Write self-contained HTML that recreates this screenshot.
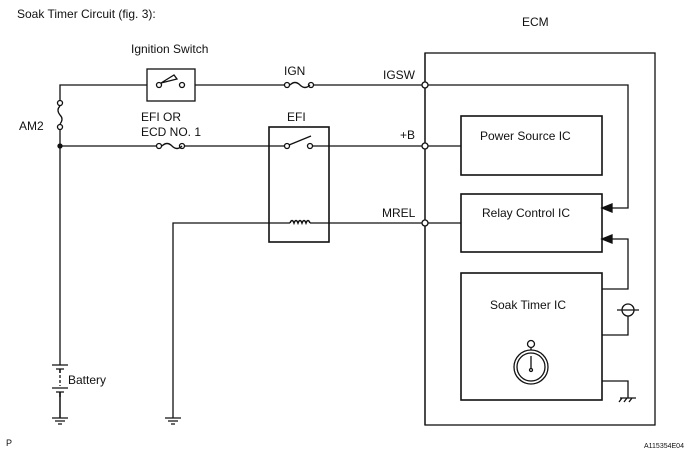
<!DOCTYPE html>
<html><head><style>body{margin:0;background:#fff}svg{display:block}text{font-family:"Liberation Sans",Arial,sans-serif;fill:#111}</style></head><body>
<svg width="692" height="465" viewBox="0 0 692 465" stroke="#111" fill="none" stroke-width="1.3">
<text x="17" y="18" font-size="12" stroke="none">Soak Timer Circuit (fig. 3):</text>
<text x="522" y="26" font-size="12" stroke="none">ECM</text>
<text x="131" y="53" font-size="12" stroke="none">Ignition Switch</text>
<text x="284" y="75" font-size="12" stroke="none">IGN</text>
<text x="383" y="79" font-size="12" stroke="none">IGSW</text>
<text x="141" y="121" font-size="12" stroke="none">EFI OR</text>
<text x="141" y="136" font-size="12" stroke="none">ECD NO. 1</text>
<text x="287" y="121" font-size="12" stroke="none">EFI</text>
<text x="19" y="130" font-size="12" stroke="none">AM2</text>
<text x="400" y="139" font-size="12" stroke="none">+B</text>
<text x="382" y="217" font-size="12" stroke="none">MREL</text>
<text x="68" y="384" font-size="12" stroke="none">Battery</text>
<text x="480" y="140" font-size="12" stroke="none">Power Source IC</text>
<text x="482" y="217" font-size="12" stroke="none">Relay Control IC</text>
<text x="490" y="309" font-size="12" stroke="none">Soak Timer IC</text>
<text x="6" y="446" font-size="9" stroke="none">P</text>
<text x="644" y="448" font-size="7" stroke="none">A115354E04</text>
<rect x="425" y="53" width="230" height="372"/>
<rect x="461" y="116" width="141" height="59" stroke-width="1.6"/>
<rect x="461" y="194" width="141" height="58" stroke-width="1.6"/>
<rect x="461" y="273" width="141" height="127" stroke-width="1.6"/>
<path d="M60 103 V85 H147 M195 85 H285 M313 85 H628 V208 H610"/>
<path d="M60 127 V365 M60 392 V418 M60 146 H157 M184 146 H287 M310 146 H461"/>
<path d="M173 418 V223 H290 M310 223 H461"/>
<path d="M425 53 V425"/>
<path d="M602 289 H628 V239 H610"/>
<path d="M602 335 H628 V316 M617 310 H639"/>
<circle cx="628" cy="310" r="6"/>
<path d="M602 381 H628 V398 M620 398 H636 M622 398 l-3 4 M627 398 l-3 4 M632 398 l-3 4"/>
<path d="M602 208 l10 -4 v8 z M602 239 l10 -4 v8 z" fill="#111"/>
<g fill="#fff"><circle cx="425" cy="85" r="3"/><circle cx="425" cy="146" r="3"/><circle cx="425" cy="223" r="3"/>
<circle cx="60" cy="103" r="2.5"/><circle cx="60" cy="127" r="2.5"/>
<circle cx="287" cy="85" r="2.5"/><circle cx="311" cy="85" r="2.5"/>
<circle cx="159" cy="146" r="2.5"/><circle cx="182" cy="146" r="2.5"/></g>
<circle cx="60" cy="146" r="2" fill="#111"/>
<path d="M60 106 q-4 4 0 9 q4 4 0 9"/>
<path d="M290 85 q5 -5 10 0 q5 5 10 0 M162 146 q5 -5 10 0 q5 5 10 0"/>
<rect x="147" y="69" width="48" height="32"/>
<circle cx="159" cy="85" r="2.5" fill="#fff"/><circle cx="182" cy="85" r="2.5" fill="#fff"/>
<path d="M161 83 L174 75 L177 79 Z"/>
<rect x="269" y="127" width="60" height="115" stroke-width="1.6"/>
<circle cx="287" cy="146" r="2.5" fill="#fff"/><circle cx="310" cy="146" r="2.5" fill="#fff"/>
<path d="M289 145 L311 136"/>
<path d="M290 223 q2 -5 4 0 q2 -5 4 0 q2 -5 4 0 q2 -5 4 0 q2 -5 4 0" stroke-width="1.6"/>
<path d="M52 365 H68 M56 369 H64 M52 388 H68 M56 392 H64"/>
<path d="M60 369 V373 M60 392 V397" stroke-width="1.6"/>
<path d="M60 375 V386" stroke-dasharray="3 2"/>
<path d="M60 418 V397 M52 418 H68 M55 421 H65 M58 424 H62 M165 418 H181 M168 421 H178 M171 424 H175"/>
<circle cx="531" cy="367" r="17"/><circle cx="531" cy="367" r="14"/>
<circle cx="531" cy="344" r="3.5"/><path d="M531 348 V350 M531 356 V368"/>
<circle cx="531" cy="370" r="1.5"/>
</svg></body></html>
